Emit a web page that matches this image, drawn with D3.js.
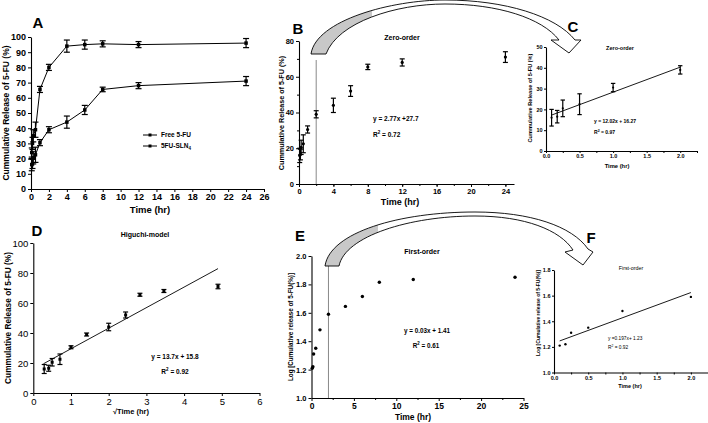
<!DOCTYPE html>
<html><head><meta charset="utf-8">
<script src="https://cdn.jsdelivr.net/npm/d3@7"></script>
<style>
html,body{margin:0;padding:0;background:#fff;}
svg{display:block;}
text{font-family:"Liberation Sans",Arial,sans-serif;fill:#000;}
</style></head>
<body>
<svg id="fig" width="708" height="423"></svg>
<script>
// ---------- data ----------
const time = [0.083, 0.167, 0.25, 0.5, 1, 2, 4, 6, 8, 12, 24];
const freeRelease = [24, 30, 35, 39, 65.5, 80, 94, 95, 95.5, 95, 96];
const freeErr = [3, 4, 4, 5, 2, 2, 4, 3, 2, 2, 3];
const slnRelease = [16, 16.5, 20.5, 22.5, 30.5, 39, 44, 52, 65.5, 68, 71];
const slnErr = [4, 3, 4, 5, 2, 2, 4, 3, 1.5, 2, 3];
const sqrtTime = [0.289, 0.408, 0.5, 0.707, 1, 1.414, 2, 2.449, 2.828, 3.464, 4.899];
const higuchiErr = [3, 2, 2.5, 3.5, 1, 1, 2.5, 2, 1, 1, 1.5];
const logRelease = [1.21, 1.22, 1.31, 1.35, 1.48, 1.59, 1.645, 1.715, 1.815, 1.835, 1.85];
const earlyCount = 6; // points up to 2 h used for insets C and F
const zeroFit = {slope: 12.02, intercept: 16.27, from: 0.083, to: 2};
const higuchiFit = {slope: 13.7, intercept: 15.8, from: 0.27, to: 4.9};
const firstFit = {slope: 0.197, intercept: 1.23, from: 0.083, to: 2};
const legendLabels = ["Free 5-FU", "5FU-SLN"];

const svg = d3.select("#fig");
const FONT = '"Liberation Sans",Arial,sans-serif';

function axes(x, y, o) {
  const g = svg.append("g");
  const y0 = y.range()[0], x0 = x.range()[0];
  const ax = g.append("g").attr("transform", `translate(0,${y0})`)
    .call(d3.axisBottom(x).tickValues(o.xt).tickSize(o.ts||3).tickSizeOuter(0).tickPadding(o.tp||2).tickFormat(o.xf || d3.format("d")));
  ax.selectAll("text").attr("font-size", o.xfs || o.fs);
  const ay = g.append("g").attr("transform", `translate(${x0},0)`)
    .call(d3.axisLeft(y).tickValues(o.yt).tickSize(o.ts||3).tickSizeOuter(0).tickPadding(o.tp||2).tickFormat(o.yf || d3.format("d")));
  ay.selectAll("text").attr("font-size", o.yfs || o.fs);
  if (o.xm) g.append("g").attr("transform", `translate(0,${y0})`)
    .call(d3.axisBottom(x).tickValues(o.xm).tickSize(2).tickFormat("")).select(".domain").remove();
  if (o.ym) g.append("g").attr("transform", `translate(${x0},0)`)
    .call(d3.axisLeft(y).tickValues(o.ym).tickSize(2).tickFormat("")).select(".domain").remove();
  g.selectAll("path.domain").attr("stroke", "#000").attr("stroke-width", 1.1);
  g.selectAll(".tick line").attr("stroke", "#000").attr("stroke-width", 1);
  g.selectAll("text").attr("font-family", FONT).attr("font-weight", o.fw||"bold");
  return g;
}
function label(x, y, t, fs, opt) {
  opt = opt || {};
  return svg.append("text").attr("x", x).attr("y", y).attr("font-size", fs)
    .attr("font-weight", opt.fw || "bold").attr("text-anchor", opt.anchor || "middle")
    .attr("transform", opt.rot ? `rotate(-90,${x},${y})` : null).text(t);
}
function r2(x, y, val, fs, anchor, fw) {
  const t = svg.append("text").attr("x", x).attr("y", y).attr("font-size", fs).attr("font-weight", fw || "bold")
    .attr("text-anchor", anchor || "start");
  t.append("tspan").text("R");
  t.append("tspan").attr("font-size", fs * 0.7).attr("dy", -fs * 0.4).text("2");
  t.append("tspan").attr("dy", fs * 0.4).text(" = " + val);
}
function errbars(xs, vs, es, x, y, cap) {
  const g = svg.append("g").attr("stroke", "#000").attr("stroke-width", 1.2);
  xs.forEach((t, i) => {
    const px = x(t);
    g.append("line").attr("x1", px).attr("x2", px).attr("y1", y(vs[i] - es[i])).attr("y2", y(vs[i] + es[i]));
    g.append("line").attr("x1", px - cap).attr("x2", px + cap).attr("y1", y(vs[i] - es[i])).attr("y2", y(vs[i] - es[i]));
    g.append("line").attr("x1", px - cap).attr("x2", px + cap).attr("y1", y(vs[i] + es[i])).attr("y2", y(vs[i] + es[i]));
  });
}
function squares(xs, vs, x, y, s) {
  svg.append("g").selectAll("rect").data(xs).join("rect")
    .attr("x", (d) => x(d) - s / 2).attr("y", (d, i) => y(vs[i]) - s / 2)
    .attr("width", s).attr("height", s).attr("fill", "#000");
}
function dots(xs, vs, x, y, r) {
  svg.append("g").selectAll("circle").data(xs).join("circle")
    .attr("cx", (d) => x(d)).attr("cy", (d, i) => y(vs[i])).attr("r", r).attr("fill", "#000");
}
function fitLine(f, x, y) {
  svg.append("line").attr("x1", x(f.from)).attr("y1", y(f.slope * f.from + f.intercept))
    .attr("x2", x(f.to)).attr("y2", y(f.slope * f.to + f.intercept))
    .attr("stroke", "#000").attr("stroke-width", 0.9);
}

// ---------- Panel A ----------
{
  const x = d3.scaleLinear().domain([0, 26]).range([31, 264]);
  const y = d3.scaleLinear().domain([0, 100]).range([189, 37]);
  axes(x, y, {xt: d3.range(0, 27, 2), yt: d3.range(0, 101, 10), fs: 9, ts: 3});
  const line = d3.line().x((d) => x(d[0])).y((d) => y(d[1]));
  [freeRelease, slnRelease].forEach((vals) => {
    svg.append("path").attr("d", line(time.map((t, i) => [t, vals[i]])))
      .attr("fill", "none").attr("stroke", "#000").attr("stroke-width", 1);
  });
  errbars(time, freeRelease, freeErr, x, y, 3);
  errbars(time, slnRelease, slnErr, x, y, 3);
  squares(time, freeRelease, x, y, 3.5);
  squares(time, slnRelease, x, y, 3.5);
  label(38, 28, "A", 15);
  label(9, 113, "Cummulative Release of 5-FU (%)", 8.5, {rot: true});
  label(150, 213, "Time (hr)", 9.5);
  // legend
  legendLabels.forEach((lab, i) => {
    const ly = 135 + i * 11;
    svg.append("line").attr("x1", 143).attr("x2", 157).attr("y1", ly).attr("y2", ly).attr("stroke", "#000");
    svg.append("rect").attr("x", 148.5).attr("y", ly - 1.5).attr("width", 3).attr("height", 3).attr("fill", "#000");
    const t = svg.append("text").attr("x", 161).attr("y", ly + 2.3).attr("font-size", 6.5).attr("font-weight", "bold").text(lab);
    if (i === 1) t.append("tspan").attr("font-size", 4.5).attr("dy", 1.5).text("4");
  });
}

// ---------- Arrows ----------
function bigArrow(d, grayUntil) {
  const id = "clip" + grayUntil;
  svg.append("clipPath").attr("id", id).append("rect").attr("x", 0).attr("y", 0).attr("width", grayUntil).attr("height", 423);
  svg.append("path").attr("d", d).attr("fill", "#fff").attr("stroke", "none");
  svg.append("path").attr("d", d).attr("fill", "#c8c8c8").attr("clip-path", `url(#${id})`);
  svg.append("path").attr("d", d).attr("fill", "none").attr("stroke", "#000").attr("stroke-width", 0.9);
}

// ---------- Panel B ----------
{
  const x = d3.scaleLinear().domain([0, 25]).range([299, 514]);
  const y = d3.scaleLinear().domain([0, 80]).range([184, 41]);
  axes(x, y, {xt: d3.range(0, 25, 4), xm: d3.range(2, 26, 2), yt: d3.range(0, 81, 20), ym: d3.range(10, 80, 20), fs: 7.5});
  svg.append("line").attr("x1", x(2)).attr("x2", x(2)).attr("y1", 60).attr("y2", y(0)).attr("stroke", "#888").attr("stroke-width", 1);
  errbars(time, slnRelease, slnErr, x, y, 2.5);
  dots(time, slnRelease, x, y, 1.6);
  label(298, 34, "B", 15);
  label(402, 40, "Zero-order", 7);
  label(373, 121, "y = 2.77x +27.7", 6.5, {anchor: "start"});
  r2(373, 137, "0.72", 6.5);
  label(284, 113, "Cummulative Release of 5-FU (%)", 7.2, {rot: true});
  label(400, 205, "Time (hr)", 9);
}
bigArrow("M311,54 C316,20 392,0 445,0 C505,0 556,16 575,40 L581,40 L569,53 L551,40 L559,40 C542,18 498,4 445,4 C396,4 338,22 326,54 Z", 372);

// ---------- Panel C ----------
{
  const tE = time.slice(0, earlyCount), vE = slnRelease.slice(0, earlyCount), eE = slnErr.slice(0, earlyCount);
  const x = d3.scaleLinear().domain([0, 2.25]).range([546, 697]);
  const y = d3.scaleLinear().domain([0, 50]).range([151, 47]);
  axes(x, y, {xt: [0, 0.5, 1, 1.5, 2], xf: d3.format(".1f"), xm: [0.25, 0.75, 1.25, 1.75, 2.25], yt: d3.range(0, 51, 10), fs: 5.5, ts: 2, tp: 1.5});
  fitLine(zeroFit, x, y);
  errbars(tE, vE, eE, x, y, 2.2);
  dots(tE, vE, x, y, 1.1);
  label(573, 32, "C", 15);
  label(620, 50, "Zero-order", 5.5);
  label(594, 123, "y = 12.02x + 16.27", 5, {anchor: "start"});
  r2(594, 134, "0.97", 5);
  label(532, 98, "Cummulative Release of 5-FU (%)", 5.6, {rot: true});
  label(617, 168, "Time (hr)", 5.8);
}

// ---------- Panel D ----------
{
  const x = d3.scaleLinear().domain([0, 6]).range([33.3, 259.5]);
  const y = d3.scaleLinear().domain([0, 100]).range([393, 243]);
  axes(x, y, {xt: d3.range(0, 7, 1), yt: d3.range(0, 101, 20), fs: 9.5, fw: "normal", ts: 3});
  fitLine(higuchiFit, x, y);
  errbars(sqrtTime, slnRelease, higuchiErr, x, y, 2.5);
  squares(sqrtTime, slnRelease, x, y, 3);
  label(37, 236, "D", 15);
  label(145, 237, "Higuchi-model", 7);
  label(175, 359, "y = 13.7x + 15.8", 6.5);
  r2(175, 374, "0.92", 6.5, "middle");
  label(11, 318, "Cummulative Release of 5-FU (%)", 8.3, {rot: true});
  label(131, 414, "\u221ATime (hr)", 7.5);
}

// ---------- Panel E ----------
{
  const x = d3.scaleLinear().domain([0, 25]).range([311.5, 523.5]);
  const y = d3.scaleLinear().domain([1, 2]).range([398, 256]);
  axes(x, y, {xt: d3.range(0, 26, 5), xm: [2.5, 7.5, 12.5, 17.5, 22.5], yt: [1, 1.2, 1.4, 1.6, 1.8, 2], yf: d3.format(".1f"), xfs: 8.5, yfs: 7.5});
  svg.append("line").attr("x1", x(2)).attr("x2", x(2)).attr("y1", 266).attr("y2", y(1)).attr("stroke", "#888").attr("stroke-width", 1);
  dots(time, logRelease, x, y, 1.7);
  label(300, 241, "E", 15);
  label(422, 254, "First-order", 7);
  label(427, 333, "y = 0.03x + 1.41", 6.3);
  r2(426, 348, "0.61", 6.3, "middle");
  label(293, 327, "Log [Cumulative release of 5-FU(%)]", 6.3, {rot: true});
  label(413, 420, "Time (hr)", 8.5);
}
bigArrow("M325,266 C330,232 400,212 475,212 C530,212 572,226 588,249 L593,252 L583,265 L565,252 L573,250 C560,230 525,216 475,216 C410,216 345,236 339,266 Z", 378);

// ---------- Panel F ----------
{
  const tE = time.slice(0, earlyCount), lE = logRelease.slice(0, earlyCount);
  const x = d3.scaleLinear().domain([0, 2.25]).range([554, 708]);
  const y = d3.scaleLinear().domain([1, 1.8]).range([372.5, 270]);
  axes(x, y, {xt: [0, 0.5, 1, 1.5, 2], xf: d3.format(".1f"), xm: [0.25, 0.75, 1.25, 1.75], yt: [1, 1.2, 1.4, 1.6, 1.8], yf: d3.format(".1f"), fs: 5.5, ts: 2, tp: 1.5});
  fitLine(firstFit, x, y);
  dots(tE, lE, x, y, 1.2);
  label(591, 243, "F", 15);
  label(631, 270, "First-order", 5.3, {fw: "normal"});
  label(608, 340, "y =0.197x+ 1.23", 4.8, {anchor: "start", fw: "normal"});
  r2(608, 349, "0.92", 4.8, "start", "normal");
  label(540, 313, "Log [Cumulative release of 5-FU(%)]", 5, {rot: true});
  label(630, 388, "Time (hr)", 5.5);
}
</script>
</body></html>
